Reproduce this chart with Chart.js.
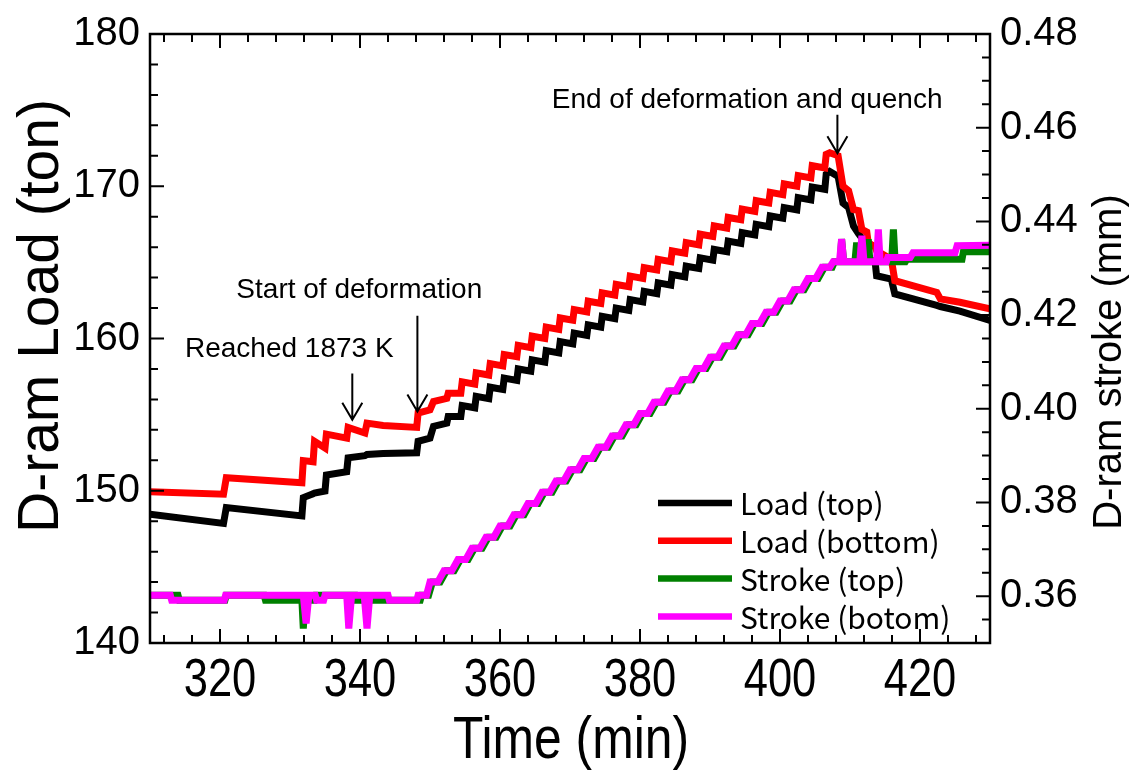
<!DOCTYPE html>
<html>
<head>
<meta charset="utf-8">
<script src="https://cdn.jsdelivr.net/npm/chart.js@4.4.0/dist/chart.umd.min.js"></script>
<style>
  html, body { margin: 0; padding: 0; background: #fff; }
</style>
</head>
<body>
<canvas id="c" width="1142" height="775"></canvas>
<script>
// time axis (min) shared by both load curves
const loadTime = [
  310, 320.5, 320.9, 331.7, 331.9, 333.3, 333.5, 335.0, 335.2, 338.1, 338.3, 340.7, 341.0, 343.3, 348.1, 348.3, 350.0, 350.5, 352.4, 352.6,
  354.4, 354.6, 356.4, 356.6, 358.4, 358.6, 360.4, 360.6, 362.4, 362.6, 364.4, 364.6, 366.4, 366.6, 368.4, 368.6,
  370.4, 370.6, 372.4, 372.6, 374.4, 374.6, 376.4, 376.6, 378.4, 378.6, 380.4, 380.6, 382.4, 382.6, 384.4, 384.6,
  386.4, 386.6, 388.4, 388.6, 390.4, 390.6, 392.4, 392.6, 394.4, 394.6, 396.4, 396.6, 398.4, 398.6, 400.4, 400.6,
  402.4, 402.6, 404.4, 404.6, 406.4, 406.6,
  407.1, 408.3, 409.0, 409.8, 410.5, 411.2, 411.7, 412.4, 412.6, 413.6, 413.8, 415.9, 416.4, 422.4, 422.9, 425.7, 430
];
// D-ram load (ton)
const loadTop = [
  148.46, 147.85, 148.90, 148.35, 149.55, 149.8, 149.85, 149.98, 151.03, 151.25, 152.16, 152.3, 152.38, 152.45, 152.49, 153.25, 153.46, 154.23, 154.44, 154.88,
  154.88, 155.6, 155.45, 156.2, 156.05, 156.8, 156.65, 157.4, 157.25, 158.0, 157.85, 158.6, 158.45, 159.2, 159.05, 159.8,
  159.65, 160.35, 160.2, 160.9, 160.75, 161.45, 161.3, 162.0, 161.85, 162.55, 162.4, 163.1, 162.95, 163.65, 163.5, 164.2,
  164.05, 164.75, 164.6, 165.3, 165.15, 165.85, 165.7, 166.4, 166.25, 166.95, 166.8, 167.5, 167.35, 168.05, 167.9, 168.6,
  168.45, 169.25, 169.1, 169.95, 169.8, 170.8,
  170.97, 170.65, 168.9, 168.6, 167.39, 166.9, 166.6, 165.43, 165.3, 164.99, 164.12, 163.9, 162.93, 162.17, 162.1, 161.8, 161.19
];
const loadBottom = [
  149.94, 149.77, 150.85, 150.53, 151.98, 151.9, 153.25, 152.81, 153.72, 153.46, 154.16, 153.79, 154.44, 154.29, 154.16, 155.10, 155.31, 155.86, 156.07, 156.40,
  156.40, 157.15, 157.0, 157.75, 157.6, 158.35, 158.2, 158.95, 158.8, 159.55, 159.4, 160.15, 160.0, 160.75, 160.6, 161.35,
  161.2, 161.9, 161.75, 162.45, 162.3, 163.0, 162.85, 163.55, 163.4, 164.1, 163.95, 164.65, 164.5, 165.2, 165.05, 165.75,
  165.6, 166.3, 166.15, 166.85, 166.7, 167.4, 167.25, 167.95, 167.8, 168.5, 168.35, 169.05, 168.9, 169.6, 169.45, 170.15,
  170.0, 170.7, 170.55, 171.35, 171.2, 172.1,
  172.2, 172.0, 170.0, 169.7, 168.47, 168.4, 167.17, 167.0, 166.3, 166.0, 165.76, 165.21, 163.8, 163.03, 162.6, 162.38, 161.95
];

// D-ram stroke (mm)
const strokeTopTime = [
  310, 314.0, 314.2, 320.7, 320.9, 326.3, 326.5, 331.7, 331.9, 332.2, 333.5, 333.7, 339.3, 339.5, 348.6, 348.8, 349.8,
  350.35, 351.45, 352.35, 353.45, 354.35, 355.45, 356.35, 357.45, 358.35, 359.45, 360.35, 361.45, 362.35, 363.45,
  364.35, 365.45, 366.35, 367.45, 368.35, 369.45, 370.35, 371.45, 372.35, 373.45, 374.35, 375.45, 376.35, 377.45,
  378.35, 379.45, 380.35, 381.45, 382.35, 383.45, 384.35, 385.45, 386.35, 387.45, 388.35, 389.45, 390.35, 391.45,
  392.35, 393.45, 394.35, 395.45, 396.35, 397.45, 398.35, 399.45, 400.35, 401.45, 402.35, 403.45, 404.35, 405.45,
  406.35, 407.45,
  407.8, 408.6, 408.8, 409.1, 410.7, 410.95, 411.2, 412.35, 412.6, 412.85, 415.95, 416.2, 416.45, 417.9, 418.1, 426.0, 426.2, 430
];
const strokeTop = [
  0.3602, 0.3602, 0.3591, 0.3591, 0.3602, 0.3602, 0.3591, 0.3591, 0.3531, 0.3591, 0.3591, 0.3602, 0.3602, 0.3591, 0.3591, 0.3602, 0.3602,
  0.3630, 0.3630, 0.3654, 0.3654, 0.3678, 0.3678, 0.3702, 0.3702, 0.3726, 0.3726, 0.3750, 0.3750, 0.3774, 0.3774,
  0.3798, 0.3798, 0.3822, 0.3822, 0.3846, 0.3846, 0.3870, 0.3870, 0.3894, 0.3894, 0.3918, 0.3918, 0.3942, 0.3942,
  0.3966, 0.3966, 0.3990, 0.3990, 0.4014, 0.4014, 0.4038, 0.4038, 0.4062, 0.4062, 0.4086, 0.4086, 0.4110, 0.4110,
  0.4134, 0.4134, 0.4158, 0.4158, 0.4182, 0.4182, 0.4206, 0.4206, 0.4230, 0.4230, 0.4254, 0.4254, 0.4278, 0.4278,
  0.4302, 0.4302,
  0.4314, 0.4314, 0.4362, 0.4314, 0.4314, 0.4355, 0.4314, 0.4314, 0.4362, 0.4314, 0.4314, 0.4383, 0.4314, 0.4314, 0.4319, 0.4319, 0.4335, 0.4335
];
const strokeBotTime = [
  310, 312.9, 313.1, 320.6, 320.8, 331.9, 332.3, 332.7, 333.6, 333.8, 334.8, 335.0, 338.1, 338.4, 338.8, 340.6, 341.0, 341.4, 344.0, 344.2, 348.1, 348.3, 349.5,
  350.0, 351.1, 352.0, 353.1, 354.0, 355.1, 356.0, 357.1, 358.0, 359.1, 360.0, 361.1, 362.0, 363.1,
  364.0, 365.1, 366.0, 367.1, 368.0, 369.1, 370.0, 371.1, 372.0, 373.1, 374.0, 375.1, 376.0, 377.1,
  378.0, 379.1, 380.0, 381.1, 382.0, 383.1, 384.0, 385.1, 386.0, 387.1, 388.0, 389.1, 390.0, 391.1,
  392.0, 393.1, 394.0, 395.1, 396.0, 397.1, 398.0, 399.1, 400.0, 401.1, 402.0, 403.1, 404.0, 405.1,
  406.0, 407.1,
  407.6, 408.5, 408.8, 409.1, 411.4, 411.7, 412.0, 413.8, 414.05, 414.3, 415.2, 415.4, 418.6, 419.0, 425.0, 425.3, 430
];
const strokeBot = [
  0.3602, 0.3602, 0.3591, 0.3591, 0.3602, 0.3602, 0.3542, 0.3602, 0.3602, 0.3591, 0.3591, 0.3602, 0.3602, 0.3531, 0.3602, 0.3602, 0.3531, 0.3602, 0.3602, 0.3591, 0.3591, 0.3602, 0.3602,
  0.3630, 0.3630, 0.3654, 0.3654, 0.3678, 0.3678, 0.3702, 0.3702, 0.3726, 0.3726, 0.3750, 0.3750, 0.3774, 0.3774,
  0.3798, 0.3798, 0.3822, 0.3822, 0.3846, 0.3846, 0.3870, 0.3870, 0.3894, 0.3894, 0.3918, 0.3918, 0.3942, 0.3942,
  0.3966, 0.3966, 0.3990, 0.3990, 0.4014, 0.4014, 0.4038, 0.4038, 0.4062, 0.4062, 0.4086, 0.4086, 0.4110, 0.4110,
  0.4134, 0.4134, 0.4158, 0.4158, 0.4182, 0.4182, 0.4206, 0.4206, 0.4230, 0.4230, 0.4254, 0.4254, 0.4278, 0.4278,
  0.4302, 0.4302,
  0.4314, 0.4314, 0.4362, 0.4314, 0.4314, 0.4369, 0.4314, 0.4314, 0.4383, 0.4314, 0.4314, 0.4323, 0.4323, 0.4333, 0.4333, 0.4348, 0.4349
];

const xTickLabels = [320, 340, 360, 380, 400, 420];
const seriesNames = ['Load (top)', 'Load (bottom)', 'Stroke (top)', 'Stroke (botom)'];
const seriesColors = ['#000000', '#ff0000', '#008000', '#ff00ff'];

// annotations: arrow x in min, arrow from/to in ton, label position in min/ton
const notes = [
  { text: 'Reached 1873 K', tx: 329.9, ty: 158.8, ax: 338.9, from: 157.7, to: 154.66 },
  { text: 'Start of deformation', tx: 339.9, ty: 162.64, ax: 348.2, from: 161.5, to: 155.2 },
  { text: 'End of deformation and quench', tx: 395.3, ty: 175.17, ax: 408.2, from: 174.7, to: 172.17 }
];

const ARIAL = '"Liberation Sans", Arial, sans-serif';

function pts(xs, ys) {
  return xs.map((x, i) => ({ x: x, y: ys[i] }));
}

// text squeezed horizontally, like the narrow face of the original
function narrowText(ctx, text, x, y, size, squeeze, rot) {
  ctx.save();
  ctx.translate(x, y);
  if (rot) ctx.rotate(rot);
  ctx.scale(squeeze, 1);
  ctx.font = size + 'px ' + ARIAL;
  ctx.fillText(text, 0, 0);
  ctx.restore();
}

const decor = {
  id: 'decor',
  afterDatasetsDraw(chart) {
    const ctx = chart.ctx;
    const a = chart.chartArea;
    const sx = chart.scales.x, sy = chart.scales.y, sy1 = chart.scales.y1;
    ctx.save();
    ctx.strokeStyle = '#000';
    ctx.fillStyle = '#000';

    // frame
    ctx.lineWidth = 2.5;
    ctx.strokeRect(a.left, a.top, a.right - a.left, a.bottom - a.top);

    // inward ticks
    ctx.lineWidth = 2;
    ctx.beginPath();
    sx.ticks.forEach(t => {
      const v = Math.round(t.value);
      if (v % 4 !== 0) return;
      const len = v % 20 === 0 ? 14 : 8;
      const px = sx.getPixelForValue(t.value);
      ctx.moveTo(px, a.bottom); ctx.lineTo(px, a.bottom - len);
      ctx.moveTo(px, a.top); ctx.lineTo(px, a.top + len);
    });
    sy.ticks.forEach(t => {
      const v = Math.round(t.value);
      const len = v % 10 === 0 ? 14 : 8;
      const py = sy.getPixelForValue(t.value);
      ctx.moveTo(a.left, py); ctx.lineTo(a.left + len, py);
    });
    sy1.ticks.forEach(t => {
      const v = Math.round(t.value * 1000);
      const len = v % 20 === 0 ? 14 : 8;
      const py = sy1.getPixelForValue(t.value);
      ctx.moveTo(a.right, py); ctx.lineTo(a.right - len, py);
    });
    ctx.stroke();

    // x tick labels and axis titles
    ctx.textAlign = 'center';
    ctx.textBaseline = 'alphabetic';
    xTickLabels.forEach(v => narrowText(ctx, String(v), sx.getPixelForValue(v), 696, 53, 0.82));
    narrowText(ctx, 'Time (min)', 571, 758, 60, 0.83);
    narrowText(ctx, 'D-ram Load (ton)', 58, 316, 57, 1, -Math.PI / 2);
    narrowText(ctx, 'D-ram stroke (mm)', 1121, 362, 40, 1, -Math.PI / 2);

    // annotations with open arrow heads
    ctx.font = '28px ' + ARIAL;
    ctx.lineWidth = 2;
    notes.forEach(n => {
      ctx.fillText(n.text, sx.getPixelForValue(n.tx), sy.getPixelForValue(n.ty));
      const x = sx.getPixelForValue(n.ax);
      const y0 = sy.getPixelForValue(n.from);
      const y1 = sy.getPixelForValue(n.to);
      ctx.beginPath();
      ctx.moveTo(x, y0); ctx.lineTo(x, y1);
      ctx.moveTo(x - 10, y1 - 17); ctx.lineTo(x, y1); ctx.lineTo(x + 10, y1 - 17);
      ctx.stroke();
    });

    // legend
    const lx = 658, ly = 503, gap = 37.8;
    ctx.textAlign = 'left';
    ctx.textBaseline = 'middle';
    ctx.font = '30px "Noto Sans CJK JP", sans-serif';
    chart.data.datasets.forEach((ds, i) => {
      const y = ly + i * gap;
      ctx.strokeStyle = ds.borderColor;
      ctx.lineWidth = 6.5;
      ctx.beginPath();
      ctx.moveTo(lx, y); ctx.lineTo(lx + 74, y);
      ctx.stroke();
      ctx.fillStyle = '#000';
      ctx.fillText(ds.label, lx + 82, y + 1);
    });
    ctx.restore();
  }
};

const lineStyle = { borderWidth: 7, pointRadius: 0, fill: false, tension: 0, borderJoinStyle: 'miter', borderCapStyle: 'butt' };

new Chart(document.getElementById('c'), {
  type: 'line',
  data: {
    datasets: [
      Object.assign({ label: seriesNames[0], data: pts(loadTime, loadTop), borderColor: seriesColors[0], yAxisID: 'y', order: 4 }, lineStyle),
      Object.assign({ label: seriesNames[1], data: pts(loadTime, loadBottom), borderColor: seriesColors[1], yAxisID: 'y', order: 3 }, lineStyle),
      Object.assign({ label: seriesNames[2], data: pts(strokeTopTime, strokeTop), borderColor: seriesColors[2], yAxisID: 'y1', order: 2 }, lineStyle),
      Object.assign({ label: seriesNames[3], data: pts(strokeBotTime, strokeBot), borderColor: seriesColors[3], yAxisID: 'y1', order: 1 }, lineStyle)
    ]
  },
  options: {
    responsive: false,
    animation: false,
    events: [],
    layout: { padding: { top: 30, left: 0, right: 0, bottom: 0 } },
    plugins: { legend: { display: false }, tooltip: { enabled: false } },
    scales: {
      x: {
        type: 'linear', min: 310, max: 430,
        grid: { display: false, drawTicks: false },
        border: { display: false },
        ticks: { stepSize: 2, autoSkip: false, display: false },
        afterFit: s => { s.height = 132; }
      },
      y: {
        position: 'left', min: 140, max: 180,
        grid: { display: false, drawTicks: false },
        border: { display: false },
        ticks: {
          stepSize: 2, autoSkip: false, padding: 10, color: '#000',
          font: { family: ARIAL, size: 40 },
          callback: v => (Math.round(v) % 10 === 0 ? String(Math.round(v)) : '')
        },
        afterFit: s => { s.width = 150; }
      },
      y1: {
        position: 'right', min: 0.35, max: 0.48,
        grid: { display: false, drawTicks: false },
        border: { display: false },
        ticks: {
          stepSize: 0.005, autoSkip: false, padding: 10, color: '#000',
          font: { family: ARIAL, size: 40 },
          callback: v => {
            const r = Math.round(v * 1000);
            return (r % 20 === 0 && r >= 360) ? (r / 1000).toFixed(2) : '';
          }
        },
        afterFit: s => { s.width = 152; }
      }
    }
  },
  plugins: [decor]
});
</script>
</body>
</html>
